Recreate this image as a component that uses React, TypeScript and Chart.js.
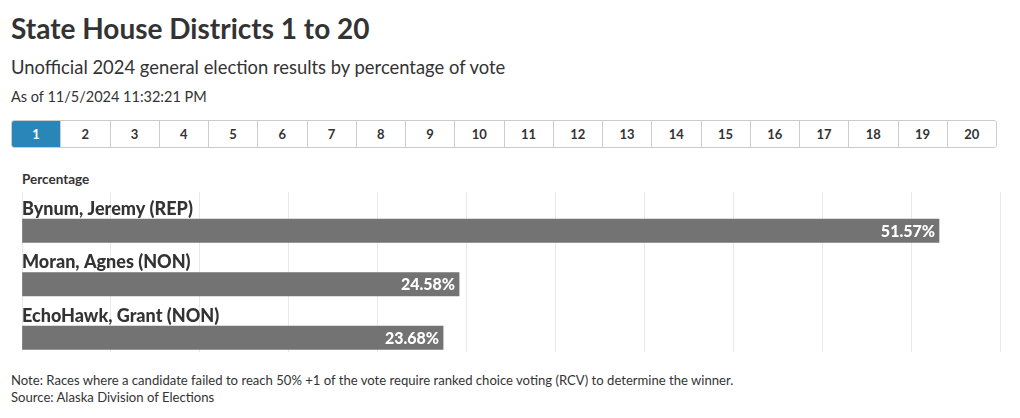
import React, { useEffect, useRef } from "react";
import { Chart, registerables } from "chart.js";

Chart.register(...registerables);

const titleText = "State House Districts 1 to 20";
const subtitleText = "Unofficial 2024 general election results by percentage of vote";
const asOfText = "As of 11/5/2024 11:32:21 PM";
const districtTabs = ["1", "2", "3", "4", "5", "6", "7", "8", "9", "10", "11", "12", "13", "14", "15", "16", "17", "18", "19", "20"];
const activeDistrict = "1";
const axisTitle = "Percentage";
const candidates = ["Bynum, Jeremy (REP)", "Moran, Agnes (NON)", "EchoHawk, Grant (NON)"];
const percentages = [51.57, 24.58, 23.68];
const xMin = 0;
const xMax = 55;
const xStep = 5;
const noteText = "Note: Races where a candidate failed to reach 50% +1 of the vote require ranked choice voting (RCV) to determine the winner.";
const sourceText = "Source: Alaska Division of Elections";

const FONT = 'Lato, "Noto Sans", sans-serif';
const TEXT = "#333333";
const BAR = "#737373";

const labelPlugin = {
  id: "barLabels",
  afterDatasetsDraw(chart: any) {
    const ctx = chart.ctx;
    const meta = chart.getDatasetMeta(0);
    const area = chart.chartArea;
    ctx.save();
    meta.data.forEach((bar: any, i: number) => {
      const top = bar.y - bar.height / 2;
      ctx.font = `900 18px ${FONT}`;
      ctx.fillStyle = TEXT;
      ctx.textAlign = "left";
      ctx.textBaseline = "alphabetic";
      ctx.fillText(candidates[i], area.left, top - 4);
      ctx.font = `900 16px ${FONT}`;
      ctx.fillStyle = "#ffffff";
      ctx.textAlign = "right";
      ctx.textBaseline = "middle";
      ctx.fillText(percentages[i].toFixed(2) + "%", bar.x - 4, bar.y + 1);
    });
    ctx.restore();
  },
};

function ResultsChart() {
  const ref = useRef<HTMLCanvasElement | null>(null);
  useEffect(() => {
    if (!ref.current) return;
    const chart = new Chart(ref.current, {
      type: "bar",
      data: {
        datasets: [
          {
            data: percentages.map((v, i) => ({ x: v, y: i })),
            backgroundColor: BAR,
            borderWidth: 0,
            barThickness: 23.5,
          },
        ],
      },
      options: {
        indexAxis: "y",
        animation: false,
        responsive: false,
        maintainAspectRatio: false,
        layout: { padding: { left: 22, right: 20, top: 32, bottom: 8 } },
        plugins: { legend: { display: false }, tooltip: { enabled: false } },
        scales: {
          x: {
            type: "linear",
            min: xMin,
            max: xMax,
            ticks: { stepSize: xStep, display: false },
            grid: { color: "#e8e8e8", drawTicks: false, lineWidth: 1 },
            border: { display: false },
          },
          y: {
            type: "linear",
            reverse: true,
            offset: false,
            min: -0.7243,
            max: 2.2664,
            display: false,
            grid: { display: false },
          },
        },
      } as any,
      plugins: [labelPlugin],
    });
    let alive = true;
    const fonts = (document as any).fonts;
    if (fonts && fonts.ready) {
      fonts.ready.then(() => {
        if (alive) chart.draw();
      });
    }
    return () => {
      alive = false;
      chart.destroy();
    };
  }, []);
  return (
    <canvas
      ref={ref}
      width={1020}
      height={200}
      style={{ position: "absolute", left: 0, top: 160, width: 1020, height: 200 }}
    />
  );
}

export default function App() {
  return (
    <div
      style={{
        position: "absolute",
        left: 0,
        top: 0,
        width: 1020,
        height: 418,
        background: "#ffffff",
        fontFamily: FONT,
        color: TEXT,
        overflow: "hidden",
      }}
    >
      <div style={{ position: "absolute", left: 11, top: 11.5, fontSize: 28, fontWeight: 700, lineHeight: 1.2, whiteSpace: "nowrap" }}>
        {titleText}
      </div>
      <div style={{ position: "absolute", left: 11, top: 56, fontSize: 18.4, lineHeight: 1.2, whiteSpace: "nowrap" }}>
        {subtitleText}
      </div>
      <div style={{ position: "absolute", left: 11, top: 87.5, fontSize: 14.5, lineHeight: 1.2, whiteSpace: "nowrap" }}>
        {asOfText}
      </div>
      <div
        style={{
          position: "absolute",
          left: 11,
          top: 120,
          width: 984,
          height: 26,
          display: "flex",
          border: "1px solid #cccccc",
          borderRadius: 3,
          overflow: "hidden",
        }}
      >
        {districtTabs.map((d, i) => (
          <div
            key={d}
            style={{
              flex: 1,
              display: "flex",
              alignItems: "center",
              justifyContent: "center",
              fontSize: 13,
              fontWeight: 700,
              background: d === activeDistrict ? "#2a86b9" : "#ffffff",
              color: d === activeDistrict ? "#ffffff" : TEXT,
              borderLeft: i === 0 ? "none" : "1px solid #cccccc",
            }}
          >
            {d}
          </div>
        ))}
      </div>
      <div style={{ position: "absolute", left: 22, top: 170.5, fontSize: 13.5, fontWeight: 700, lineHeight: 1.2, whiteSpace: "nowrap" }}>
        {axisTitle}
      </div>
      <ResultsChart />
      <div style={{ position: "absolute", left: 11, top: 372, fontSize: 13.1, lineHeight: "17px", whiteSpace: "nowrap" }}>
        <div>{noteText}</div>
        <div>{sourceText}</div>
      </div>
    </div>
  );
}
